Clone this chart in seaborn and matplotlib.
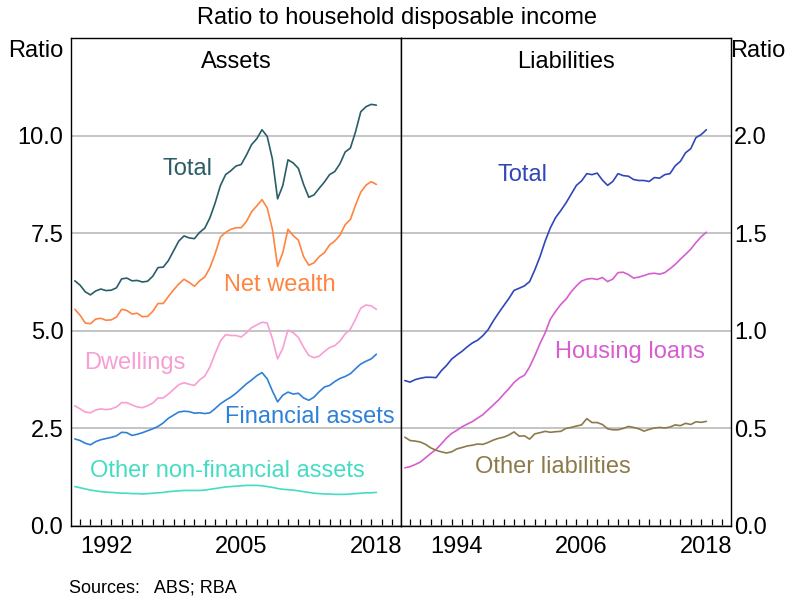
import numpy as np
import pandas as pd
import seaborn as sns
from matplotlib import pyplot as plt


## DADOS (razão sobre a renda disponível das famílias, semestral)

anos = np.arange(1989.5, 2018.51, 0.5)

ativos_total = [6.28, 6.17, 6.00, 5.92, 6.02, 6.07, 6.03, 6.04, 6.10, 6.33,
                6.35, 6.28, 6.29, 6.25, 6.27, 6.40, 6.62, 6.63, 6.80, 7.05,
                7.30, 7.43, 7.38, 7.36, 7.52, 7.63, 7.90, 8.28, 8.72, 9.00,
                9.10, 9.22, 9.26, 9.50, 9.77, 9.92, 10.15, 9.98, 9.40, 8.38,
                8.72, 9.38, 9.30, 9.16, 8.75, 8.42, 8.48, 8.65, 8.81, 9.00,
                9.08, 9.28, 9.58, 9.68, 10.10, 10.61, 10.74, 10.80, 10.78]

riqueza_liquida = [5.55, 5.40, 5.20, 5.18, 5.30, 5.32, 5.27, 5.28, 5.35, 5.55,
                   5.52, 5.43, 5.45, 5.36, 5.37, 5.50, 5.70, 5.70, 5.88, 6.05,
                   6.20, 6.32, 6.24, 6.14, 6.28, 6.38, 6.62, 6.98, 7.40, 7.52,
                   7.60, 7.64, 7.64, 7.80, 8.05, 8.20, 8.36, 8.15, 7.60, 6.65,
                   7.00, 7.60, 7.44, 7.32, 6.90, 6.68, 6.74, 6.90, 7.00, 7.20,
                   7.30, 7.45, 7.72, 7.85, 8.22, 8.55, 8.73, 8.82, 8.75]

imoveis = [3.08, 3.00, 2.92, 2.90, 2.97, 3.00, 2.98, 3.00, 3.05, 3.16,
           3.16, 3.10, 3.05, 3.03, 3.08, 3.15, 3.28, 3.28, 3.38, 3.50,
           3.62, 3.67, 3.63, 3.60, 3.74, 3.84, 4.08, 4.42, 4.74, 4.90,
           4.88, 4.88, 4.84, 4.95, 5.08, 5.15, 5.22, 5.20, 4.80, 4.28,
           4.55, 5.02, 4.95, 4.83, 4.58, 4.37, 4.31, 4.35, 4.47, 4.57,
           4.62, 4.74, 4.92, 5.04, 5.30, 5.58, 5.66, 5.64, 5.55]

financeiros = [2.23, 2.19, 2.12, 2.08, 2.16, 2.21, 2.24, 2.27, 2.31, 2.40,
               2.39, 2.32, 2.35, 2.39, 2.44, 2.49, 2.55, 2.64, 2.76, 2.84,
               2.92, 2.94, 2.93, 2.89, 2.90, 2.88, 2.90, 3.01, 3.13, 3.22,
               3.30, 3.40, 3.52, 3.64, 3.74, 3.85, 3.93, 3.77, 3.46, 3.18,
               3.35, 3.43, 3.38, 3.40, 3.28, 3.22, 3.30, 3.44, 3.56, 3.60,
               3.70, 3.78, 3.83, 3.90, 4.03, 4.15, 4.22, 4.28, 4.40]

outros_nao_fin = [1.01, 0.98, 0.95, 0.92, 0.90, 0.88, 0.87, 0.86, 0.85, 0.84,
                  0.84, 0.83, 0.83, 0.82, 0.83, 0.84, 0.85, 0.86, 0.88, 0.89,
                  0.90, 0.91, 0.91, 0.91, 0.91, 0.92, 0.94, 0.96, 0.98, 1.00,
                  1.01, 1.02, 1.03, 1.04, 1.04, 1.04, 1.03, 1.01, 0.99, 0.96,
                  0.94, 0.93, 0.92, 0.90, 0.88, 0.86, 0.84, 0.83, 0.82, 0.82,
                  0.81, 0.81, 0.81, 0.82, 0.83, 0.84, 0.85, 0.85, 0.86]

passivos_total = [0.745, 0.737, 0.750, 0.757, 0.762, 0.762, 0.760, 0.795, 0.822, 0.855,
                  0.876, 0.895, 0.918, 0.938, 0.952, 0.975, 1.005, 1.050, 1.090, 1.128,
                  1.165, 1.207, 1.218, 1.230, 1.252, 1.312, 1.380, 1.460, 1.528, 1.580,
                  1.616, 1.655, 1.700, 1.745, 1.768, 1.805, 1.800, 1.808, 1.772, 1.745,
                  1.765, 1.805, 1.795, 1.792, 1.775, 1.770, 1.770, 1.765, 1.785, 1.782,
                  1.800, 1.805, 1.845, 1.868, 1.912, 1.933, 1.990, 2.005, 2.030]

habitacao = [0.298, 0.304, 0.315, 0.328, 0.350, 0.372, 0.392, 0.420, 0.450, 0.474,
             0.490, 0.508, 0.522, 0.535, 0.553, 0.570, 0.595, 0.620, 0.645, 0.675,
             0.703, 0.735, 0.758, 0.772, 0.815, 0.872, 0.935, 0.990, 1.060, 1.100,
             1.135, 1.162, 1.200, 1.230, 1.255, 1.265, 1.268, 1.263, 1.273, 1.252,
             1.265, 1.298, 1.300, 1.288, 1.270, 1.275, 1.283, 1.292, 1.295, 1.290,
             1.298, 1.318, 1.340, 1.367, 1.392, 1.418, 1.452, 1.482, 1.505]

outros_passivos = [0.455, 0.438, 0.435, 0.430, 0.418, 0.400, 0.388, 0.380, 0.374, 0.380,
                   0.395, 0.402, 0.410, 0.414, 0.420, 0.418, 0.428, 0.440, 0.449, 0.455,
                   0.466, 0.482, 0.460, 0.462, 0.445, 0.472, 0.478, 0.485, 0.480, 0.483,
                   0.485, 0.500, 0.505, 0.512, 0.518, 0.550, 0.530, 0.530, 0.520, 0.498,
                   0.493, 0.493, 0.500, 0.510, 0.505, 0.498, 0.486, 0.495, 0.502, 0.505,
                   0.502, 0.507, 0.518, 0.514, 0.526, 0.520, 0.534, 0.531, 0.536]

rotulos_ativos = ['Total', 'Net wealth', 'Dwellings', 'Financial assets', 'Other non-financial assets']
cores_ativos = ['#2a5d68', '#ff8442', '#f79fd4', '#2f80d8', '#45dcc4']
rotulos_passivos = ['Total', 'Housing loans', 'Other liabilities']
cores_passivos = ['#3146b8', '#d65ed0', '#8d7a4b']


## DATAFRAMES

df_A = pd.DataFrame({'Ano': anos, 'Total': ativos_total, 'Net wealth': riqueza_liquida,
                     'Dwellings': imoveis, 'Financial assets': financeiros,
                     'Other non-financial assets': outros_nao_fin})
df_A = df_A.melt(id_vars='Ano', var_name='Serie', value_name='Ratio')

df_P = pd.DataFrame({'Ano': anos, 'Total': passivos_total, 'Housing loans': habitacao,
                     'Other liabilities': outros_passivos})
df_P = df_P.melt(id_vars='Ano', var_name='Serie', value_name='Ratio')


## FIGURA

sns.set_theme(style='white')
plt.rcParams['font.family'] = ['Liberation Sans', 'DejaVu Sans']
plt.rcParams['text.color'] = 'black'
plt.rcParams['xtick.color'] = 'black'
plt.rcParams['ytick.color'] = 'black'

fig = plt.figure(figsize=(7.94, 5.99), dpi=100)
ax1 = fig.add_axes([71/794, 1-526/599, 330/794, 488/599])
ax2 = fig.add_axes([401/794, 1-526/599, 330/794, 488/599])

sns.lineplot(data=df_A, x='Ano', y='Ratio', hue='Serie', hue_order=rotulos_ativos,
             palette=cores_ativos, linewidth=1.2, legend=False, ax=ax1)
sns.lineplot(data=df_P, x='Ano', y='Ratio', hue='Serie', hue_order=rotulos_passivos,
             palette=cores_passivos, linewidth=1.2, legend=False, ax=ax2)

for ax in (ax1, ax2):
    ax.set_xlim(1989.13, 2020.87)
    ax.set_xlabel('')
    ax.set_ylabel('')
    for s in ax.spines.values():
        s.set_color('black')
        s.set_linewidth(1.0)
    ax.set_xticks(np.arange(1990, 2021), minor=True)
    ax.tick_params(axis='x', which='minor', direction='in', length=5, width=0.9,
                   color='black', bottom=True)
    ax.tick_params(axis='x', which='major', length=0, pad=7, labelsize=17, labelcolor='black')
    ax.tick_params(axis='y', length=0, labelsize=17, labelcolor='black')
    ax.yaxis.grid(True, color='#b4b4b4', linewidth=1.1)
    ax.set_axisbelow(True)

ax1.set_xticks([1992.5, 2005.5, 2018.5], ['1992', '2005', '2018'])
ax2.set_xticks([1994.5, 2006.5, 2018.5], ['1994', '2006', '2018'])

ax1.set_ylim(0, 12.5)
ax1.set_yticks([0, 2.5, 5, 7.5, 10], ['0.0', '2.5', '5.0', '7.5', '10.0'])
ax1.tick_params(axis='y', pad=5.5)

ax2.set_ylim(0, 2.5)
ax2.set_yticks([0, 0.5, 1.0, 1.5, 2.0], ['0.0', '0.5', '1.0', '1.5', '2.0'])
ax2.yaxis.tick_right()
ax2.tick_params(axis='y', length=0, pad=2)


## TEXTOS

fig.text(0.5, 1-18/599, 'Ratio to household disposable income', ha='center', va='center', fontsize=17)
fig.text(36/794, 1-51/599, 'Ratio', ha='center', va='center', fontsize=17)
fig.text(758/794, 1-51/599, 'Ratio', ha='center', va='center', fontsize=17)
fig.text(69/794, 1-588/599, 'Sources:   ABS; RBA', ha='left', va='center', fontsize=13)

ax1.text(0.5, 0.951, 'Assets', transform=ax1.transAxes, ha='center', va='center', fontsize=17)
ax2.text(0.5, 0.951, 'Liabilities', transform=ax2.transAxes, ha='center', va='center', fontsize=17)

pos_ativos = [(2000.3, 9.15), (2009.2, 6.17), (1995.3, 4.18), (2012.1, 2.80), (2004.2, 1.41)]
for rot, cor, (x, y) in zip(rotulos_ativos, cores_ativos, pos_ativos):
    ax1.text(x, y, rot, color=cor, ha='center', va='center', fontsize=17)

pos_passivos = [(2000.8, 1.80), (2011.15, 0.89), (2003.75, 0.30)]
for rot, cor, (x, y) in zip(rotulos_passivos, cores_passivos, pos_passivos):
    ax2.text(x, y, rot, color=cor, ha='center', va='center', fontsize=17)

fig.savefig('out.png', dpi=100)
